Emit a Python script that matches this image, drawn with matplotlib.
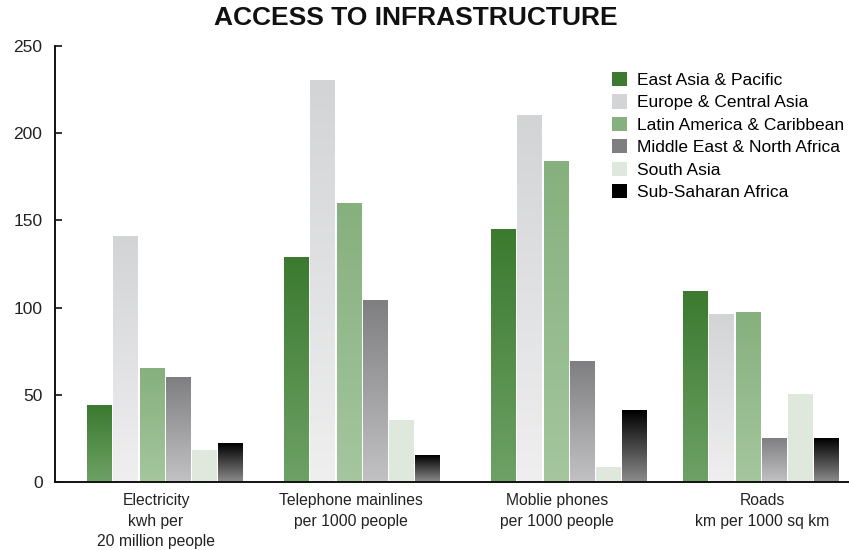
import numpy as np
import matplotlib
matplotlib.use("Agg")
import matplotlib.pyplot as plt
from matplotlib.colors import LinearSegmentedColormap
from matplotlib.patches import Patch

plt.rcParams['font.family'] = ['Liberation Sans', 'DejaVu Sans']

categories = ["Electricity\nkwh per\n20 million people",
              "Telephone mainlines\nper 1000 people",
              "Moblie phones\nper 1000 people",
              "Roads\nkm per 1000 sq km"]
series_names = ["East Asia & Pacific", "Europe & Central Asia",
                "Latin America & Caribbean", "Middle East & North Africa",
                "South Asia", "Sub-Saharan Africa"]
east_asia = [44, 129, 144.5, 109]
europe = [141, 230, 210, 96]
latin = [65, 159.5, 184, 97]
middle_east = [60, 104, 69, 25]
south_asia = [18, 35.5, 8.5, 50]
sub_saharan = [22, 15, 41, 25]
values = [east_asia, europe, latin, middle_east, south_asia, sub_saharan]
y_ticks = [0, 50, 100, 150, 200, 250]

# (top colour, bottom colour) per series
grads = [("#3b7a2f", "#6ea166"),
         ("#d3d4d6", "#efeff0"),
         ("#86b07d", "#a5c69f"),
         ("#7f7f82", "#c2c2c4"),
         ("#dfe8dc", "#dfe8dc"),
         ("#000000", "#8c8c8c")]

W, H = 849, 550
fig = plt.figure(figsize=(W / 100, H / 100), dpi=100)
ax = fig.add_axes([55 / W, (H - 482) / H, (849 - 55) / W, (482 - 46) / H])

group_centers = np.array([165, 362, 569, 761])
label_pos = np.array([156, 351, 557, 762])
step = 26.2
width = 24.6

for s, (vals, (ctop, cbot)) in enumerate(zip(values, grads)):
    xs = group_centers + (s - 2.5) * step
    bars = ax.bar(xs, vals, width=width, color='none', edgecolor='none', zorder=2)
    cmap = LinearSegmentedColormap.from_list("g%d" % s, [cbot, ctop])
    grad = np.linspace(0, 1, 256).reshape(-1, 1)
    for r in bars:
        x0, w, h = r.get_x(), r.get_width(), r.get_height()
        ax.imshow(grad, extent=[x0, x0 + w, 0, h], origin='lower', cmap=cmap,
                  aspect='auto', zorder=2, interpolation='bilinear')

ax.set_xlim(55, 849)
ax.set_ylim(0, 250)
ax.set_aspect('auto')

for sp in ['top', 'right']:
    ax.spines[sp].set_visible(False)
for sp in ['left', 'bottom']:
    ax.spines[sp].set_linewidth(1.4)
    ax.spines[sp].set_color('#111111')
    ax.spines[sp].set_zorder(3)

ax.set_yticks(y_ticks)
ax.set_yticklabels([str(v) for v in y_ticks], fontsize=12.5, color='#222222')
ax.tick_params(axis='y', direction='in', length=5, width=1.2, pad=9, colors='#111111', labelcolor='#222222')
ax.set_xticks(label_pos)
ax.set_xticklabels(categories, fontsize=11.3, color='#222222', linespacing=1.45)
ax.tick_params(axis='x', length=0, pad=8)

fig.text(416 / W, 1 - 18 / H, "ACCESS TO INFRASTRUCTURE", ha='center', va='center',
         fontsize=19, fontweight='bold', color='#111111')

handles = [Patch(facecolor=ct, edgecolor='none') for ct, cb in grads]
fig.legend(handles, series_names, loc='upper left',
           bbox_to_anchor=(612 / W, 1 - 72 / H), bbox_transform=fig.transFigure,
           frameon=False, fontsize=12.5, handlelength=0.87, handleheight=0.87,
           handletextpad=0.55, labelspacing=0.37, borderpad=0, borderaxespad=0)

fig.savefig("out.png", dpi=100)
